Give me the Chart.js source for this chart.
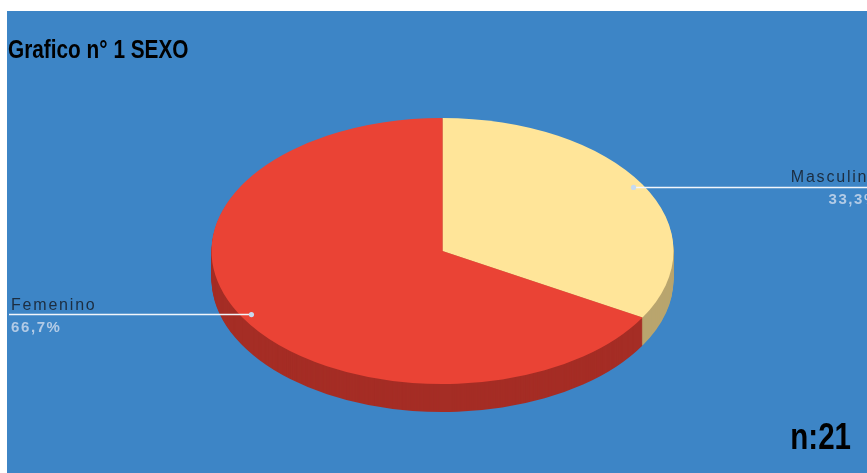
<!DOCTYPE html>
<html>
<head>
<meta charset="utf-8">
<script src="https://cdn.jsdelivr.net/npm/chart.js@4.4.0/dist/chart.umd.min.js"></script>
<style>
  html, body { margin: 0; padding: 0; background: #fff; overflow: hidden; }
  #panel { position: absolute; left: 7px; top: 11px; width: 860px; height: 462px; background: #3d85c6; }
  #grafico { position: absolute; left: 0; top: 0; }
  #titulo, #total {
    position: absolute; font-family: "Liberation Sans", Arial, sans-serif;
    font-weight: bold; color: #000; white-space: nowrap;
  }
  #titulo { left: 1px; top: 24.5px; font-size: 26px; line-height: 26px; transform: scaleX(0.8); transform-origin: left center; }
  #total { right: 16px; top: 407.5px; font-size: 36px; line-height: 36px; transform: scaleX(0.82); transform-origin: right center; }
</style>
</head>
<body>
<div id="panel">
  <canvas id="grafico" width="860" height="462"></canvas>
  <div id="titulo">Grafico n° 1 SEXO</div>
  <div id="total">n:21</div>
</div>
<script>
const categorias = ['Masculino', 'Femenino'];
const respuestas = [7, 14];
const coloresCara = ['#ffe599', '#ea4335'];
const coloresLado = ['#b9a56e', '#a52d25'];

// how flat the pie looks and how thick its edge is
const TILT = 0.576;
const DEPTH = 28;

const total = respuestas.reduce((a, b) => a + b, 0);

function porcentaje(v) {
  return (v / total * 100).toFixed(1).replace('.', ',') + '%';
}

function pathSlice(ctx, arc) {
  ctx.beginPath();
  ctx.moveTo(arc.x, arc.y);
  ctx.arc(arc.x, arc.y, arc.outerRadius, arc.startAngle, arc.endAngle);
  ctx.closePath();
}

function squash(ctx, cx, cy, dy) {
  ctx.translate(cx, cy + dy);
  ctx.scale(1, TILT);
  ctx.translate(-cx, -cy);
}

const pie3d = {
  id: 'pie3d',
  beforeDatasetsDraw(chart) {
    const ctx = chart.ctx;
    const arcs = chart.getDatasetMeta(0).data;
    const cx = arcs[0].x, cy = arcs[0].y;
    // side wall, stacked from the bottom up
    for (let d = DEPTH; d > 0; d--) {
      ctx.save();
      squash(ctx, cx, cy, d);
      arcs.forEach((arc, i) => {
        pathSlice(ctx, arc);
        ctx.fillStyle = coloresLado[i];
        ctx.fill();
      });
      ctx.restore();
    }
    // top face: let the library draw its arcs flattened
    ctx.save();
    squash(ctx, cx, cy, 0);
  },
  afterDatasetsDraw(chart) {
    const ctx = chart.ctx;
    ctx.restore();
    const arcs = chart.getDatasetMeta(0).data;
    arcs.forEach((arc, i) => {
      const mid = (arc.startAngle + arc.endAngle) / 2;
      const px = arc.x + Math.cos(mid) * arc.outerRadius * 0.955;
      const py = arc.y + Math.sin(mid) * arc.outerRadius * 0.955 * TILT;
      const derecha = Math.cos(mid) >= 0;
      const endX = derecha ? chart.width : 2;

      ctx.save();
      ctx.strokeStyle = '#f2f6fb';
      ctx.lineWidth = 1.5;
      ctx.beginPath();
      ctx.moveTo(px, py);
      ctx.lineTo(endX, py);
      ctx.stroke();

      ctx.fillStyle = '#c6daf0';
      ctx.beginPath();
      ctx.arc(px, py, 2.6, 0, Math.PI * 2);
      ctx.fill();

      ctx.textAlign = derecha ? 'right' : 'left';
      const tx = derecha ? 872 : 4;
      ctx.font = '16px "Liberation Sans", Arial, sans-serif';
      ctx.letterSpacing = '1.8px';
      ctx.fillStyle = '#1c2d40';
      ctx.fillText(categorias[i], tx, py - 5);
      ctx.font = 'bold 15px "Liberation Sans", Arial, sans-serif';
      ctx.letterSpacing = '1.6px';
      ctx.fillStyle = '#b3cbe6';
      ctx.fillText(porcentaje(respuestas[i]), tx, py + 17);
      ctx.restore();
    });
  }
};

new Chart(document.getElementById('grafico'), {
  type: 'pie',
  data: {
    labels: categorias,
    datasets: [{
      data: respuestas,
      backgroundColor: coloresCara,
      borderWidth: 0,
      radius: 231
    }]
  },
  options: {
    responsive: false,
    animation: false,
    layout: { padding: { left: 11, right: 0, top: 18, bottom: 0 } },
    plugins: {
      legend: { display: false },
      tooltip: { enabled: false }
    }
  },
  plugins: [pie3d]
});
</script>
</body>
</html>
